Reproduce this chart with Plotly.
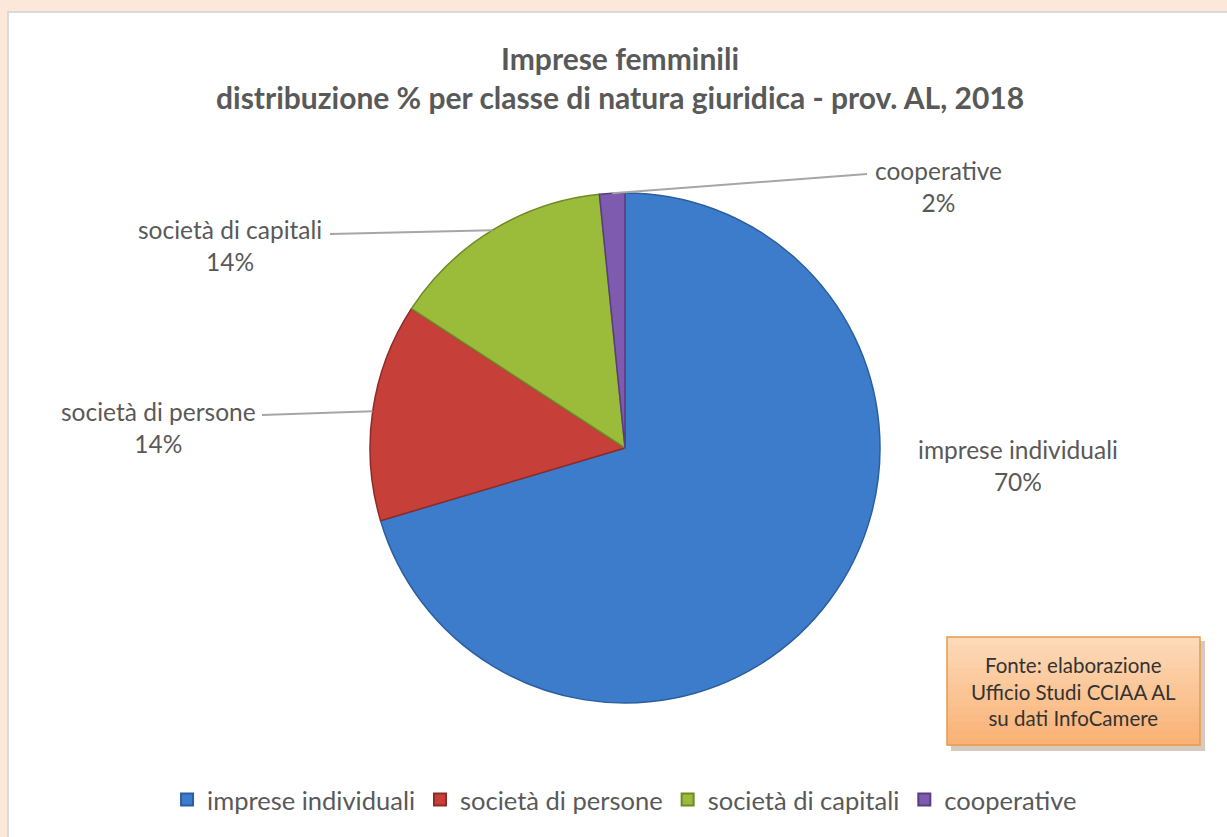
import math
import plotly.graph_objects as go

# ---- data ----
categories = ["imprese individuali", "società di persone", "società di capitali", "cooperative"]
values = [70.4, 13.8, 14.2, 1.6]
colors = ["#3D7CCB", "#C63F38", "#9BBB3B", "#7E5BAE"]
edge_colors = ["#2B5E9E", "#8F2B26", "#6E8A27", "#583E80"]
title_lines = ["Imprese femminili", "distribuzione % per classe di natura giuridica - prov. AL, 2018"]
source_text = "Fonte: elaborazione<br>Ufficio Studi CCIAA AL<br>su dati InfoCamere"

W, H = 1227, 837
FONT = "Lato, 'Open Sans', sans-serif"
GREY = "#595959"

# pie geometry (pixels)
cx, cy, R = 625, 448, 255
dom_x = [(cx - R) / W, (cx + R) / W]
dom_y = [1 - (cy + R) / H, 1 - (cy - R) / H]

def px(x):
    return x / W

def py(y):
    return 1 - y / H

fig = go.Figure()
fig.add_trace(go.Pie(
    labels=categories, values=values, sort=False, direction="clockwise", rotation=0,
    marker=dict(colors=colors, line=dict(color=edge_colors, width=1.5)),
    textinfo="none", hoverinfo="label+percent", domain=dict(x=dom_x, y=dom_y),
    showlegend=True,
))

# label placements (layout, pixel coords): text center and leader-line start
label_pos = {
    "imprese individuali": dict(tx=1018, ty=465, line=None),
    "società di persone": dict(tx=158, ty=427, line=(262, 415)),
    "società di capitali": dict(tx=230, ty=245, line=(330, 234)),
    "cooperative": dict(tx=938, ty=186, line=(867, 174)),
}

total = sum(values)
cum = 0.0
annotations = []
shapes = []
# background: peach frame and white panel
shapes.append(dict(type="rect", xref="paper", yref="paper", x0=0, x1=1, y0=0, y1=1,
                   fillcolor="#FCE8DA", line=dict(width=0), layer="below"))
shapes.append(dict(type="rect", xref="paper", yref="paper", x0=px(8), x1=px(1240), y0=py(850), y1=py(12),
                   fillcolor="#FFFFFF", line=dict(color="#D9D9D9", width=2), layer="below"))

for cat, v in zip(categories, values):
    pct = v / total * 100
    mid = (cum + v / 2) / total * 2 * math.pi
    cum += v
    ex = cx + R * math.sin(mid)
    ey = cy - R * math.cos(mid)
    p = label_pos[cat]
    annotations.append(dict(
        x=px(p["tx"]), y=py(p["ty"]), xref="paper", yref="paper",
        xanchor="center", yanchor="middle",
        text=f"{cat}<br>{round(pct):.0f}%", showarrow=False,
        font=dict(family=FONT, size=24.5, color=GREY), align="center",
    ))
    if p["line"] is not None:
        lx, ly = p["line"]
        shapes.append(dict(type="line", xref="paper", yref="paper",
                           x0=px(lx), y0=py(ly), x1=px(ex), y1=py(ey),
                           line=dict(color="#A6A6A6", width=2)))

# title
annotations.append(dict(
    x=px(620), y=py(78), xref="paper", yref="paper", xanchor="center", yanchor="middle",
    showarrow=False,
    text=f"<b>{title_lines[0]}</b><br><b>{title_lines[1]}</b>",
    font=dict(family=FONT, size=30, color=GREY), align="center",
))

# source box with shadow and simple gradient
bx0, bx1, by0, by1 = 947, 1200, 637, 745
shapes.append(dict(type="rect", xref="paper", yref="paper", x0=px(bx0 + 4), x1=px(bx1 + 5),
                   y0=py(by1 + 6), y1=py(by0 + 4), fillcolor="rgba(120,80,40,0.30)", line=dict(width=0)))
nstrip = 14
for i in range(nstrip):
    t = i / (nstrip - 1)
    r = int(253 + (250 - 253) * t)
    g = int(218 + (178 - 218) * t)
    b = int(184 + (118 - 184) * t)
    y0 = by0 + (by1 - by0) * i / nstrip
    y1 = by0 + (by1 - by0) * (i + 1) / nstrip
    shapes.append(dict(type="rect", xref="paper", yref="paper", x0=px(bx0), x1=px(bx1),
                       y0=py(y1 + 0.5), y1=py(y0), fillcolor=f"rgb({r},{g},{b})", line=dict(width=0)))
shapes.append(dict(type="rect", xref="paper", yref="paper", x0=px(bx0), x1=px(bx1),
                   y0=py(by1), y1=py(by0), fillcolor="rgba(0,0,0,0)", line=dict(color="#E59B4F", width=1.5)))
annotations.append(dict(
    x=px((bx0 + bx1) / 2), y=py((by0 + by1) / 2), xref="paper", yref="paper",
    xanchor="center", yanchor="middle", showarrow=False,
    text=source_text, font=dict(family=FONT, size=20.5, color="#333333"), align="center",
))

fig.update_layout(
    width=W, height=H,
    margin=dict(l=0, r=0, t=0, b=0),
    paper_bgcolor="#FCE8DA", plot_bgcolor="#FFFFFF",
    shapes=shapes, annotations=annotations,
    legend=dict(orientation="h", x=0.509, xanchor="center", y=py(800), yanchor="middle",
                font=dict(family=FONT, size=25.5, color=GREY), bgcolor="rgba(0,0,0,0)",
                itemsizing="constant", tracegroupgap=0),
)

fig.write_html("out.html", config={"displayModeBar": False},
               post_script="document.body.style.margin='0';")
